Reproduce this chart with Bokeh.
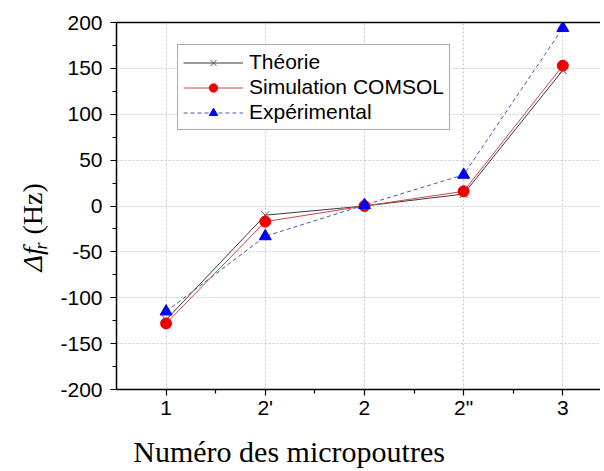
import math
from bokeh.plotting import figure
from bokeh.layouts import row, column
from bokeh.models import (FixedTicker, Range1d, Legend, LegendItem, LinearAxis,
                          ColumnDataSource)
from bokeh.core.properties import value
from bokeh.embed import file_html
from bokeh.resources import INLINE

# ---- data ----
categories = ["1", "2'", "2", "2\"", "3"]
theorie = [-124, -10, 0, 13, 148]
simulation = [-128, -17, 0, 16, 153]
experimental = [-115, -33, 1, 34, 194]
y_ticks = [-200, -150, -100, -50, 0, 50, 100, 150, 200]
y_minor = [-175, -125, -75, -25, 25, 75, 125, 175]

W = 600
H_MAIN = 434
H_XL = 37
LAB_W = 56
TOP = 22
BOT = 389
serif = "Liberation Serif"

xs = list(range(len(categories)))
src = ColumnDataSource(dict(x=xs, th=theorie, sim=simulation, exp=experimental))
xr = Range1d(-0.5, 4.38)

p = figure(width=W - LAB_W, height=H_MAIN, output_backend="svg", toolbar_location=None,
           x_range=xr, y_range=Range1d(-200, 200),
           min_border_left=116 - LAB_W, min_border_right=0, min_border_top=TOP,
           min_border_bottom=H_MAIN - BOT)
p.outline_line_color = None
p.background_fill_color = "white"
p.border_fill_color = "white"

# axes
p.xaxis.ticker = FixedTicker(ticks=xs, minor_ticks=[0.5, 1.5, 2.5, 3.5])
p.xaxis.major_label_overrides = {i: c for i, c in zip(xs, categories)}
p.yaxis.ticker = FixedTicker(ticks=y_ticks, minor_ticks=y_minor)
p.yaxis.major_label_overrides = {t: str(t) for t in y_ticks}
for ax in (p.xaxis[0], p.yaxis[0]):
    ax.axis_line_color = "black"
    ax.axis_line_width = 1.5
    ax.major_tick_line_color = "black"
    ax.minor_tick_line_color = "black"
    ax.major_tick_line_width = 1.2
    ax.minor_tick_line_width = 1.2
    ax.major_tick_in = 0
    ax.major_tick_out = 6
    ax.minor_tick_in = 0
    ax.minor_tick_out = 4
    ax.major_label_text_font = "Liberation Sans"
    ax.major_label_text_font_size = "21px"
    ax.major_label_text_color = "black"
    ax.axis_label = None
p.xaxis.major_label_standoff = 0
p.yaxis.major_label_standoff = 8

top = LinearAxis(ticker=FixedTicker(ticks=[]), axis_line_color="black", axis_line_width=1.5,
                 major_label_text_font_size="0px", major_tick_out=0, minor_tick_out=0)
p.add_layout(top, "above")

# grid
for g in (p.xgrid[0], p.ygrid[0]):
    g.grid_line_color = "#c8c8c8"
    g.grid_line_dash = "2 2"
    g.grid_line_width = 1
p.xgrid.ticker = FixedTicker(ticks=xs)
p.ygrid.ticker = FixedTicker(ticks=y_ticks)

# series
l_th = p.line("x", "th", source=src, line_color="#3a3a3a", line_width=1)
m_th = p.scatter("x", "th", source=src, marker="x", size=11, line_color="#555555", line_width=1)
l_sim = p.line("x", "sim", source=src, line_color="#c84848", line_width=1)
m_sim = p.scatter("x", "sim", source=src, marker="circle", size=11,
                  fill_color="#ee0000", line_color="#ee0000")
l_exp = p.line("x", "exp", source=src, line_color="#4a58b0", line_width=1, line_dash="4 3")
m_exp = p.scatter("x", "exp", source=src, marker="triangle", size=12,
                  fill_color="#0000ee", line_color="#0000ee")

legend = Legend(items=[
    LegendItem(label="Théorie", renderers=[l_th, m_th]),
    LegendItem(label="Simulation COMSOL", renderers=[l_sim, m_sim]),
    LegendItem(label="Expérimental", renderers=[l_exp, m_exp]),
], location=(61, 259))
legend.label_text_font = "Liberation Sans"
legend.label_text_font_size = "21px"
legend.label_text_color = "black"
legend.glyph_width = 60
legend.glyph_height = 21
legend.label_height = 21
legend.spacing = 1
legend.padding = 5
legend.margin = 0
legend.label_standoff = 6
legend.border_line_color = "#555555"
legend.border_line_width = 1
legend.background_fill_alpha = 1
p.add_layout(legend, "center")

# y label figure: "Δf_r (Hz)"; its frame spans the same rows as the main frame
yl = figure(width=LAB_W, height=H_MAIN, output_backend="svg", toolbar_location=None,
            x_range=Range1d(0, LAB_W), y_range=Range1d(0, BOT - TOP),
            x_axis_type=None, y_axis_type=None, min_border_left=0, min_border_right=0,
            min_border_top=TOP, min_border_bottom=H_MAIN - BOT)
yl.outline_line_color = None
yl.grid.visible = False
yl.background_fill_color = "white"
yl.border_fill_color = "white"
yl.text(x=[32], y=[BOT - 271], text=["Δf"], angle=math.pi / 2,
        text_font=value(serif), text_font_style="italic", text_font_size="28px",
        text_align="left", text_baseline="alphabetic", text_color="black")
yl.text(x=[40], y=[BOT - 249], text=["r"], angle=math.pi / 2,
        text_font=value(serif), text_font_style="italic", text_font_size="18px",
        text_align="left", text_baseline="alphabetic", text_color="black")
yl.text(x=[32], y=[BOT - 234], text=["(Hz)"], angle=math.pi / 2,
        text_font=value(serif), text_font_size="28px",
        text_align="left", text_baseline="alphabetic", text_color="black")

# x label strip below, sharing the x range of the main plot
xl = figure(width=W, height=H_XL, output_backend="svg", toolbar_location=None,
            x_range=xr, y_range=Range1d(0, H_XL),
            x_axis_type=None, y_axis_type=None, min_border_left=116, min_border_right=0,
            min_border_top=0, min_border_bottom=0)
xl.outline_line_color = None
xl.grid.visible = False
xl.background_fill_color = "white"
xl.border_fill_color = "white"
xl.text(x=[1.24], y=[20], text=["Numéro des micropoutres"],
        text_font=value(serif), text_font_size="30px",
        text_align="center", text_baseline="alphabetic", text_color="black")

layout = column(row(yl, p, spacing=0), xl, spacing=0)
open("out.html", "w").write(file_html(layout, INLINE))
